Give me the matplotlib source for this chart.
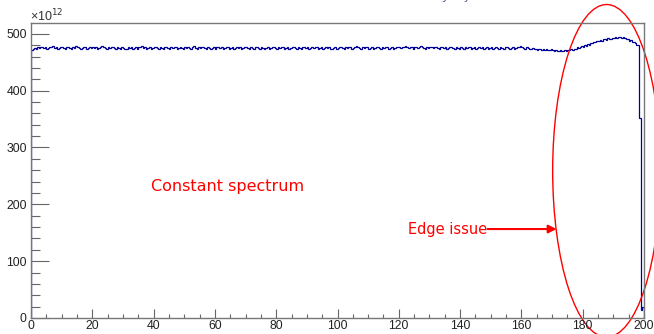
import numpy as np
import matplotlib.pyplot as plt
from matplotlib.patches import Ellipse
from matplotlib.ticker import MultipleLocator

# Histogram contents (units of 1e12), 400 bins of width 0.5 between 0 and 200
bin_lo = 0.0
bin_hi = 200.0
counts = [
    472, 474, 475, 474, 476, 475, 477, 476, 475, 476, 474, 475, 477, 476, 478, 475, 476, 474, 475, 477,
    476, 475, 474, 476, 477, 475, 474, 476, 475, 478, 476, 475, 474, 475, 477, 476, 474, 475, 476, 475,
    477, 475, 476, 474, 475, 477, 478, 476, 475, 474, 476, 475, 477, 476, 475, 474, 476, 475, 474, 476,
    475, 473, 474, 476, 475, 477, 474, 475, 476, 474, 477, 476, 478, 475, 476, 474, 475, 476, 474, 475,
    476, 477, 475, 474, 476, 475, 474, 476, 477, 475, 474, 476, 475, 477, 476, 474, 475, 476, 475, 474,
    476, 475, 477, 475, 474, 476, 478, 475, 474, 476, 475, 477, 476, 475, 474, 476, 475, 473, 475, 476,
    474, 476, 477, 475, 476, 474, 475, 477, 476, 474, 475, 476, 474, 475, 477, 475, 476, 474, 475, 476,
    477, 475, 474, 476, 475, 474, 476, 477, 475, 474, 476, 475, 473, 475, 476, 474, 475, 477, 476, 475,
    474, 476, 475, 477, 476, 474, 475, 476, 474, 475, 477, 476, 475, 474, 476, 475, 474, 476, 477, 475,
    476, 474, 475, 476, 475, 477, 476, 474, 475, 476, 474, 475, 477, 475, 476, 474, 473, 475, 476, 474,
    475, 476, 477, 475, 474, 476, 475, 477, 476, 474, 475, 476, 478, 476, 475, 474, 476, 475, 477, 476,
    474, 475, 476, 474, 475, 477, 476, 475, 474, 476, 475, 477, 476, 474, 475, 476, 474, 475, 476, 477,
    476, 475, 477, 476, 478, 476, 475, 477, 476, 474, 476, 477, 475, 476, 478, 476, 475, 474, 476, 475,
    477, 476, 475, 477, 476, 475, 474, 476, 477, 475, 476, 474, 475, 476, 477, 475, 474, 476, 475, 474,
    476, 475, 474, 476, 475, 477, 476, 474, 475, 476, 474, 475, 477, 475, 476, 474, 475, 476, 474, 475,
    476, 474, 475, 477, 475, 474, 476, 475, 474, 476, 477, 475, 474, 475, 476, 474, 475, 477, 476, 478,
    476, 475, 474, 476, 475, 473, 474, 475, 473, 474, 472, 474, 473, 471, 473, 472, 474, 472, 471, 473,
    472, 470, 471, 469, 470, 472, 470, 469, 471, 470, 472, 471, 473, 472, 474, 473, 476, 475, 477, 478,
    477, 480, 479, 482, 481, 484, 483, 486, 485, 488, 487, 489, 488, 491, 490, 489, 492, 491, 490, 493,
    492, 494, 493, 495, 494, 493, 494, 492, 491, 490, 488, 489, 486, 485, 483, 481, 480, 352, 14, 20,
]
y_scale_label = '×10$^{12}$'
x_major = 20
x_minor = 5
y_major = 100
y_minor = 20

edges = np.linspace(bin_lo, bin_hi, len(counts) + 1)

fig = plt.figure(figsize=(6.54, 3.34), dpi=100)
ax = fig.add_axes([31 / 654, 16 / 334, 613 / 654, 295 / 334])

ax.stairs(counts, edges, color='#000099', lw=0.9)

ax.set_xlim(0, 200)
ax.set_ylim(0, 519)
ax.xaxis.set_major_locator(MultipleLocator(x_major))
ax.xaxis.set_minor_locator(MultipleLocator(x_minor))
ax.yaxis.set_major_locator(MultipleLocator(y_major))
ax.yaxis.set_minor_locator(MultipleLocator(y_minor))

for s in ax.spines.values():
    s.set_color('#777777')
    s.set_linewidth(1.0)

ax.tick_params(axis='both', which='both', direction='in', color='#666666', width=0.8,
               top=False, right=False)
ax.tick_params(axis='x', which='major', length=6.5, pad=1.5)
ax.tick_params(axis='x', which='minor', length=3.2)
ax.tick_params(axis='y', which='major', length=13, pad=3)
ax.tick_params(axis='y', which='minor', length=6.5)
for t in ax.get_xticklabels() + ax.get_yticklabels():
    t.set_fontfamily('Liberation Sans')
    t.set_fontsize(8.8)
    t.set_color('#222222')

fig.text(30 / 654, 1 - 21 / 334, y_scale_label, fontfamily='Liberation Sans',
         fontsize=9, color='#333333', va='baseline', ha='left')

# clipped title at the top edge
fig.text(468 / 654, 1 + 3 / 334, r'$\sigma_{y}, f_{j}, (x)$', fontsize=13,
         color='#556688', ha='center', va='baseline')

# annotations
ax.text(64, 232, 'Constant spectrum', color='red', fontsize=11.5,
        fontfamily='DejaVu Sans', ha='center', va='center')
ax.text(136, 156.5, 'Edge issue', color='red', fontsize=10.5,
        fontfamily='DejaVu Sans', ha='center', va='center')
ax.annotate('', xy=(171.5, 156.5), xytext=(149, 156.5),
            arrowprops=dict(arrowstyle='-|>', color='red', lw=1.5, mutation_scale=12,
                            shrinkA=0, shrinkB=0))
ax.add_patch(Ellipse((187.8, 259), 35.2, 585, fill=False, edgecolor='red',
                     lw=1.0, clip_on=False))

fig.savefig('out.png', dpi=100)
